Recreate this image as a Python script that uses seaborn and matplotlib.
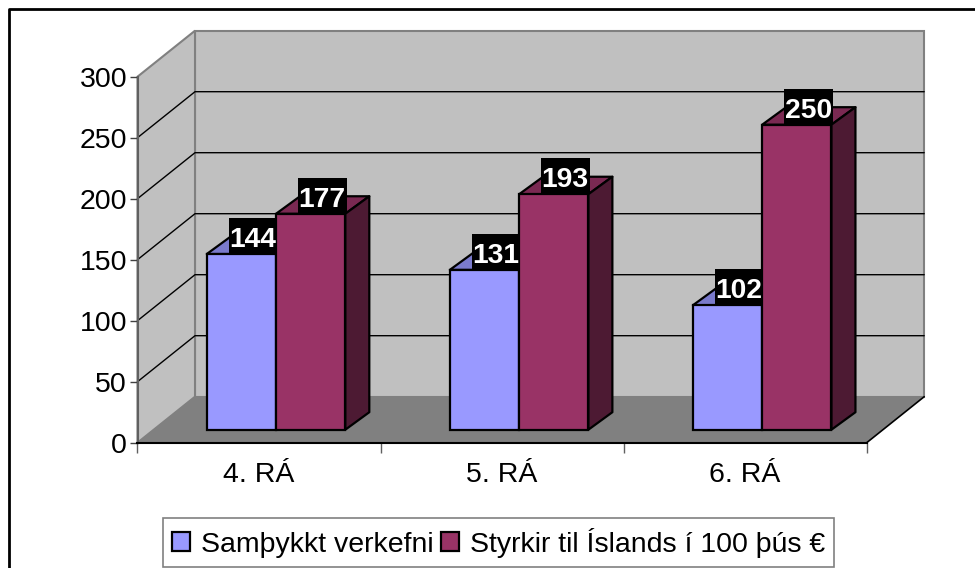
import pandas as pd
import matplotlib.pyplot as plt
import seaborn as sns
from matplotlib.lines import Line2D
from matplotlib.patches import Polygon, Rectangle

periods = ['4. RÁ', '5. RÁ', '6. RÁ']
projects = [144, 131, 102]
grants = [177, 193, 250]
series_names = ['Samþykkt verkefni', 'Styrkir til Íslands í 100 þús €']
y_ticks = [0, 50, 100, 150, 200, 250, 300]

colors = {series_names[0]: '#9999FF', series_names[1]: '#993366'}
top_colors = ['#7A7ACC', '#7A2952']
side_colors = ['#4D4D80', '#4D1A33']

sns.set_theme(style='white')
plt.rcParams['font.family'] = ['Liberation Sans', 'DejaVu Sans']
plt.rcParams['text.color'] = 'black'

df = pd.DataFrame({
    'period': periods * 2,
    'series': [series_names[0]] * 3 + [series_names[1]] * 3,
    'value': projects + grants,
})

fig = plt.figure(figsize=(9.75, 5.68), dpi=100, facecolor='white')
ax = fig.add_axes([137.5 / 975, (568 - 442.7) / 568, 729.2 / 975, 366 / 568])
ax.patch.set_visible(False)

sns.barplot(data=df, x='period', y='value', hue='series', order=periods,
            hue_order=series_names, palette=colors, width=0.57, saturation=1,
            edgecolor='black', linewidth=1.6, ax=ax)
ax.set_xlim(-0.5, 2.5)
ax.set_ylim(0, 300)
ax.set_xlabel('')
ax.set_ylabel('')

# pixels to data units, for the fake 3d depth
px_x = 3 / 729.2
px_y = 300 / 366
wall_dx, wall_dy = 57.5 * px_x, 46 * px_y
front_dx, front_dy = 17 * px_x, 13 * px_y
bar_dx, bar_dy = 24 * px_x, 17.5 * px_y
x0, x1 = ax.get_xlim()

# back wall, side wall and floor
ax.add_patch(Polygon([(x0 + wall_dx, wall_dy), (x1 + wall_dx, wall_dy),
                      (x1 + wall_dx, 300 + wall_dy), (x0 + wall_dx, 300 + wall_dy)],
                     fc='#C0C0C0', ec='#808080', lw=1.5, clip_on=False, zorder=0.2))
ax.add_patch(Polygon([(x0, 0), (x0 + wall_dx, wall_dy),
                      (x0 + wall_dx, 300 + wall_dy), (x0, 300)],
                     fc='#C0C0C0', ec='#808080', lw=1.5, clip_on=False, zorder=0.2))
ax.add_patch(Polygon([(x0, 0), (x1, 0), (x1 + wall_dx, wall_dy), (x0 + wall_dx, wall_dy)],
                     fc='#808080', ec='none', clip_on=False, zorder=0.3))
ax.plot([x1, x1 + wall_dx], [0, wall_dy], color='black', lw=1.2, clip_on=False, zorder=0.4)

for t in y_ticks[1:-1]:
    ax.plot([x0, x0 + wall_dx, x1 + wall_dx], [t, t + wall_dy, t + wall_dy],
            color='black', lw=1, clip_on=False, zorder=0.4)

# move the bars back from the front plane and give them a top and a side
n_cats = len(periods)
for i, bar in enumerate(ax.patches[:2 * n_cats]):
    series_idx = i // n_cats
    bar.set_x(bar.get_x() + front_dx)
    bar.set_y(front_dy)
    bar.set_clip_on(False)
    bar.set_zorder(2 + series_idx * 2)
    left = bar.get_x()
    right = left + bar.get_width()
    bottom = front_dy
    top = front_dy + bar.get_height()
    ax.add_patch(Polygon([(left, top), (right, top), (right + bar_dx, top + bar_dy),
                          (left + bar_dx, top + bar_dy)],
                         fc=top_colors[series_idx], ec='black', lw=1.6,
                         joinstyle='round', clip_on=False, zorder=1.5 + series_idx * 2))
    ax.add_patch(Polygon([(right, bottom), (right + bar_dx, bottom + bar_dy),
                          (right + bar_dx, top + bar_dy), (right, top)],
                         fc=side_colors[series_idx], ec='black', lw=1.6,
                         joinstyle='round', clip_on=False, zorder=1.5 + series_idx * 2))
    # black label box sits on the front top edge of the bar
    label_x = left + bar.get_width() / 2 + 11.5 * px_x
    box_w, box_h = 48.7 * px_x, 36 * px_y
    ax.add_patch(Rectangle((label_x - box_w / 2, top), box_w, box_h, fc='black', ec='none',
                           clip_on=False, zorder=9))
    ax.annotate(str(int(bar.get_height())), xy=(label_x, top), xytext=(0, 7),
                textcoords='offset pixels', ha='center', va='baseline',
                color='white', fontsize=20.3, fontweight='bold', zorder=10,
                annotation_clip=False)

for side in ['top', 'right']:
    ax.spines[side].set_visible(False)
ax.spines['left'].set_color('#606060')
ax.spines['left'].set_linewidth(1.5)
ax.spines['bottom'].set_color('black')
ax.spines['bottom'].set_linewidth(1.5)
for spine in ax.spines.values():
    spine.set_zorder(1)

ax.set_yticks(y_ticks)
ax.tick_params(axis='y', left=True, length=6, width=1, color='#404040',
               labelsize=20.5, pad=1.5, labelcolor='black')
# ticks on the category borders, labels on the centres
ax.set_xticks([-0.5, 0.5, 1.5, 2.5], labels=['', '', '', ''])
ax.set_xticks([0, 1, 2], labels=periods, minor=True)
ax.tick_params(axis='x', which='major', bottom=True, length=7, width=1, color='#606060')
ax.tick_params(axis='x', which='minor', bottom=False, length=0, labelsize=20.5, pad=14,
               labelcolor='black')

handles, labels = ax.get_legend_handles_labels()
ax.legend(handles, labels, ncol=2, loc='lower left', bbox_to_anchor=(163 / 975, (568 - 566.7) / 568),
          bbox_transform=fig.transFigure, fontsize=20.5, frameon=True, fancybox=False,
          edgecolor='#808080', framealpha=1, labelcolor='black', borderpad=0.32, handlelength=0.64,
          handleheight=0.64, handletextpad=0.36, columnspacing=0.28, borderaxespad=0)
ax.get_legend().get_frame().set_linewidth(1.2)

# chart border, only top and left reach the picture
fig.add_artist(Line2D([8.5 / 975, 8.5 / 975, 1], [0, (568 - 9) / 568, (568 - 9) / 568],
                      color='black', lw=2))

fig.savefig('out.png', dpi=100)
